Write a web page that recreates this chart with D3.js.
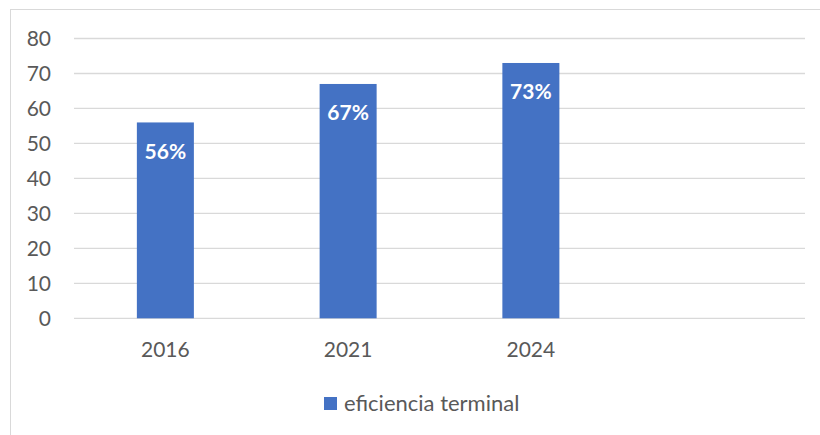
<!DOCTYPE html>
<html>
<head>
<meta charset="utf-8">
<script src="https://cdn.jsdelivr.net/npm/d3@7"></script>
<style>
  body { margin: 0; background: #fff; }
  text { font-family: Lato, "Open Sans", sans-serif; }
</style>
</head>
<body>
<div class="chart"></div>
<script>
const categories = ["2016", "2021", "2024", ""];
const values = [56, 67, 73, null];
const labels = ["56%", "67%", "73%", ""];
const yTicks = [0, 10, 20, 30, 40, 50, 60, 70, 80];
const seriesName = "eficiencia terminal";

const width = 820;
const height = 435;
const svg = d3.select('.chart')
  .append('svg')
  .attr('width', width)
  .attr('height', height);

// chart border (right/bottom run off the picture)
svg.append("rect")
  .attr("x", 10.5)
  .attr("y", 9.5)
  .attr("width", 830)
  .attr("height", 440)
  .attr("fill", "none")
  .attr("stroke", "#d9d9d9")
  .attr("stroke-width", 1);

const plotLeft = 74, plotRight = 805, plotTop = 38.5, plotBottom = 318.3;

const x = d3.scaleBand()
  .domain(categories.map((d, i) => i))
  .range([plotLeft, plotRight])
  .paddingInner(0.688)
  .paddingOuter(0.344);

const y = d3.scaleLinear()
  .domain([0, 80])
  .range([plotBottom, plotTop]);

// gridlines
svg.selectAll("line.grid")
  .data(yTicks)
  .enter()
  .append("line")
  .attr("x1", plotLeft)
  .attr("x2", plotRight)
  .attr("y1", d => y(d))
  .attr("y2", d => y(d))
  .attr("stroke", "#d9d9d9")
  .attr("stroke-width", 1.3);

// y tick labels
svg.selectAll("text.ytick")
  .data(yTicks)
  .enter()
  .append("text")
  .text(d => d)
  .attr("x", 51)
  .attr("y", d => y(d))
  .attr("dy", "0.35em")
  .attr("text-anchor", "end")
  .attr("font-size", "21px")
  .attr("fill", "#595959");

// bars
const barData = values.map((v, i) => ({ i: i, v: v, label: labels[i] })).filter(d => d.v !== null);

svg.selectAll("rect.bar")
  .data(barData)
  .enter()
  .append("rect")
  .attr("x", d => x(d.i))
  .attr("y", d => y(d.v))
  .attr("width", x.bandwidth())
  .attr("height", d => y(0) - y(d.v))
  .attr("fill", "#4472c4");

// value labels inside bars
svg.selectAll("text.value")
  .data(barData)
  .enter()
  .append("text")
  .text(d => d.label)
  .attr("x", d => x(d.i) + x.bandwidth() / 2)
  .attr("y", d => y(d.v) + 29)
  .attr("dy", "0.35em")
  .attr("text-anchor", "middle")
  .attr("font-size", "21px")
  .attr("font-weight", "bold")
  .attr("fill", "#ffffff");

// category labels
svg.selectAll("text.cat")
  .data(categories)
  .enter()
  .append("text")
  .text(d => d)
  .attr("x", (d, i) => x(i) + x.bandwidth() / 2)
  .attr("y", 350)
  .attr("dy", "0.35em")
  .attr("text-anchor", "middle")
  .attr("font-size", "21px")
  .attr("fill", "#595959");

// legend
svg.append("rect")
  .attr("x", 324)
  .attr("y", 397)
  .attr("width", 13)
  .attr("height", 13)
  .attr("fill", "#4472c4");

svg.append("text")
  .text(seriesName)
  .attr("x", 344)
  .attr("y", 403.5)
  .attr("dy", "0.35em")
  .attr("font-size", "22px")
  .attr("fill", "#595959");
</script>
</body>
</html>
